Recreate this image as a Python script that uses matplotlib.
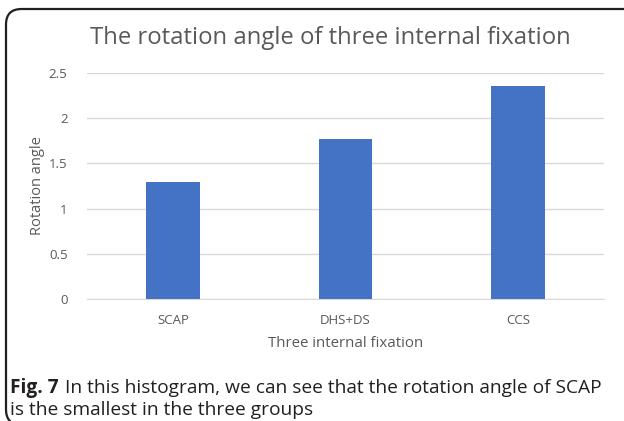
import matplotlib
matplotlib.use("Agg")
import matplotlib.pyplot as plt
from matplotlib.patches import FancyBboxPatch

categories = ["SCAP", "DHS+DS", "CCS"]
values = [1.29, 1.77, 2.36]
yticks = [0, 0.5, 1, 1.5, 2, 2.5]
ytick_labels = ["0", "0.5", "1", "1.5", "2", "2.5"]

plt.rcParams['font.family'] = ['Open Sans', 'DejaVu Sans']

W, H = 624, 421
fig = plt.figure(figsize=(W / 100, H / 100), dpi=100)
fig.patch.set_facecolor("white")

# Rounded frame (right and bottom edges cropped)
frame = FancyBboxPatch((6 / W, -4 / H), (W + 30) / W, (H - 5) / H,
                       boxstyle="round,pad=0,rounding_size=0.025",
                       transform=fig.transFigure, fill=False,
                       edgecolor="#231f20", linewidth=1.6, mutation_aspect=W / H)
fig.patches.append(frame)

ax = fig.add_axes([87 / W, 122 / H, (604 - 87) / W, (299 - 73) / H])
x = range(len(categories))
ax.bar(x, values, width=0.31, color="#4472C4", zorder=3)
ax.set_xlim(-0.5, 2.5)
ax.set_ylim(0, 2.5)
ax.set_yticks(yticks)
ax.set_yticklabels(ytick_labels)
ax.set_xticks(list(x))
ax.set_xticklabels(categories)
ax.grid(axis="y", color="#D9D9D9", linewidth=1.0, zorder=0)
for s in ["top", "right", "left"]:
    ax.spines[s].set_visible(False)
ax.spines["bottom"].set_color("#D9D9D9")
ax.tick_params(axis="both", length=0, colors="#595959", labelsize=9.5)
ax.tick_params(axis="y", pad=14)
ax.tick_params(axis="x", pad=11)
ax.set_ylabel("Rotation angle", color="#595959", fontsize=10.5, labelpad=3)
ax.set_xlabel("Three internal fixation", color="#595959", fontsize=10.8, labelpad=6)

fig.text(330 / W, 1 - 38 / H, "The rotation angle of three internal fixation",
         ha="center", va="center", fontsize=17.2, color="#595959")

fig.text(10 / W, 1 - 388 / H, "Fig. 7", ha="left", va="center", fontsize=13.8,
         fontweight="bold", color="#231f20")
fig.text(65 / W, 1 - 388 / H,
         "In this histogram, we can see that the rotation angle of SCAP",
         ha="left", va="center", fontsize=13.8, color="#231f20")
fig.text(10 / W, 1 - 410 / H, "is the smallest in the three groups",
         ha="left", va="center", fontsize=13.8, color="#231f20")

fig.savefig("out.png", dpi=100)
